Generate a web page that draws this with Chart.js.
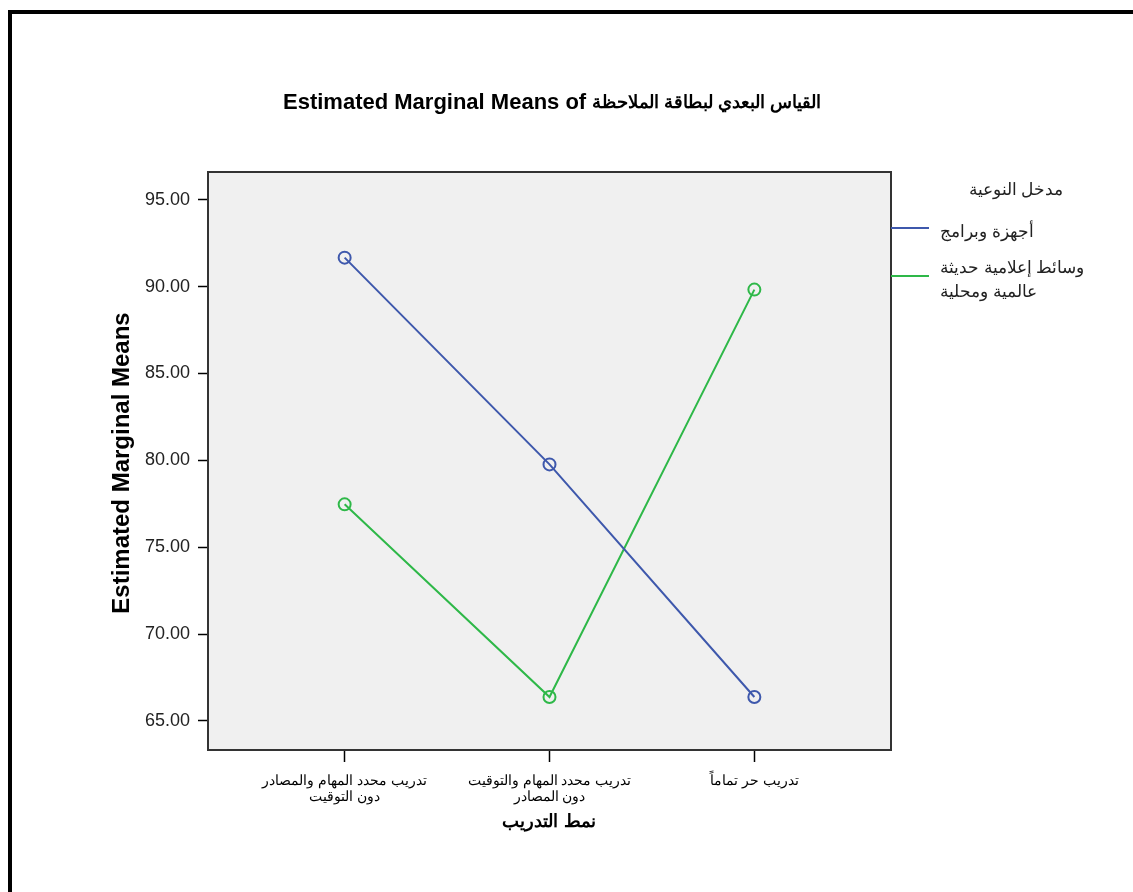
<!DOCTYPE html>
<html>
<head>
<meta charset="utf-8">
<script src="https://cdn.jsdelivr.net/npm/chart.js@4.4.1/dist/chart.umd.min.js"></script>
<style>
  html, body { margin: 0; padding: 0; background: #fff; }
  #wrap { position: relative; width: 1133px; height: 892px; overflow: hidden; }
  #frame { position: absolute; left: 8px; top: 10px; right: 0; bottom: 0;
           border-top: 4px solid #000; border-left: 4px solid #000; pointer-events: none; }
  canvas { position: absolute; left: 0; top: 0; }
</style>
</head>
<body>
<div id="wrap">
  <canvas id="chart" width="1133" height="892"></canvas>
  <div id="frame"></div>
</div>
<script>
// categories of نمط التدريب (multi-line tick labels)
const categories = [
  ["تدريب محدد المهام والمصادر", "دون التوقيت"],
  ["تدريب محدد المهام والتوقيت", "دون المصادر"],
  ["تدريب حر تماماً"]
];
const seriesNames = ["أجهزة وبرامج", "وسائط إعلامية حديثة عالمية ومحلية"];
const legendLines = [["أجهزة وبرامج"], ["وسائط إعلامية حديثة", "عالمية ومحلية"]];
const devicesValues = [91.67, 79.77, 66.38];
const mediaValues = [77.47, 66.38, 89.83];
const yTicks = [65, 70, 75, 80, 85, 90, 95];

const titlePrefix = "Estimated Marginal Means of";
const titleSubject = "القياس البعدي لبطاقة الملاحظة";
const yTitle = "Estimated Marginal Means";
const xTitle = "نمط التدريب";
const legendTitle = "مدخل النوعية";

const blue = "rgb(62,88,172)";
const green = "rgb(46,184,72)";

const toPoints = vals => vals.map((v, i) => ({ x: i, y: v }));

const decor = {
  id: "decor",
  beforeDraw(chart) {
    const { ctx, chartArea: a } = chart;
    ctx.save();
    ctx.fillStyle = "#f0f0f0";
    ctx.fillRect(a.left, a.top, a.right - a.left, a.bottom - a.top);
    ctx.restore();
  },
  afterDraw(chart) {
    const { ctx, chartArea: a } = chart;
    ctx.save();
    // plot frame
    ctx.strokeStyle = "#333";
    ctx.lineWidth = 2;
    ctx.strokeRect(a.left, a.top, a.right - a.left, a.bottom - a.top);

    ctx.fillStyle = "#000";
    ctx.textBaseline = "middle";

    // title: english part then arabic part
    ctx.textAlign = "left";
    ctx.font = "bold 22px Arial";
    ctx.fillText(titlePrefix, 283, 103);
    const w = ctx.measureText(titlePrefix + " ").width;
    ctx.font = "bold 18px Arial";
    ctx.fillText(titleSubject, 283 + w, 103);

    // y axis title
    ctx.textAlign = "center";
    ctx.save();
    ctx.translate(122, 463);
    ctx.rotate(-Math.PI / 2);
    ctx.font = "bold 24px Arial";
    ctx.fillText(yTitle, 0, 0);
    ctx.restore();

    // x axis title
    ctx.font = "bold 18px Arial";
    ctx.fillText(xTitle, 549, 822);

    // legend
    ctx.font = "17px Arial";
    ctx.fillStyle = "#222";
    ctx.fillText(legendTitle, 1016, 190);
    const rowY = [228, 276];
    const textY = [[232], [268, 292]];
    chart.data.datasets.forEach((ds, i) => {
      ctx.strokeStyle = ds.borderColor;
      ctx.lineWidth = 2;
      ctx.beginPath();
      ctx.moveTo(a.right, rowY[i]);
      ctx.lineTo(a.right + 38, rowY[i]);
      ctx.stroke();
      ctx.textAlign = "left";
      legendLines[i].forEach((ln, j) => ctx.fillText(ln, 940, textY[i][j]));
    });
    ctx.restore();
  }
};

new Chart(document.getElementById("chart"), {
  type: "line",
  data: {
    datasets: [
      { label: seriesNames[0], data: toPoints(devicesValues), borderColor: blue,
        pointBorderColor: blue, pointBackgroundColor: "rgba(0,0,0,0)" },
      { label: seriesNames[1], data: toPoints(mediaValues), borderColor: green,
        pointBorderColor: green, pointBackgroundColor: "rgba(0,0,0,0)" }
    ]
  },
  options: {
    responsive: false,
    animation: false,
    devicePixelRatio: 1,
    layout: { padding: { top: 172, right: 242, bottom: 0, left: 0 } },
    elements: {
      line: { borderWidth: 2, tension: 0 },
      point: { radius: 6, borderWidth: 2, hoverRadius: 6 }
    },
    plugins: { legend: { display: false }, title: { display: false }, tooltip: { enabled: false } },
    scales: {
      x: {
        type: "linear",
        min: -0.667,
        max: 2.667,
        afterBuildTicks: s => { s.ticks = categories.map((c, i) => ({ value: i })); },
        afterFit: s => { s.height = 142; },
        ticks: {
          callback: v => categories[v],
          color: "#000",
          font: { family: "Arial", size: 14, lineHeight: 1.15 },
          padding: 11,
          maxRotation: 0,
          autoSkip: false
        },
        grid: { drawOnChartArea: false, drawTicks: true, tickLength: 12, color: "#000", tickWidth: 1.5 },
        border: { display: true, color: "#333", width: 2 }
      },
      y: {
        min: 63.33,
        max: 96.6,
        afterBuildTicks: s => { s.ticks = yTicks.map(v => ({ value: v })); },
        afterFit: s => { s.width = 208; },
        ticks: {
          callback: v => v.toFixed(2),
          color: "#222",
          font: { family: "Arial", size: 18 },
          padding: 8
        },
        grid: { drawOnChartArea: false, drawTicks: true, tickLength: 10, color: "#000", tickWidth: 1.5 },
        border: { display: true, color: "#333", width: 2 }
      }
    }
  },
  plugins: [decor]
});
</script>
</body>
</html>
